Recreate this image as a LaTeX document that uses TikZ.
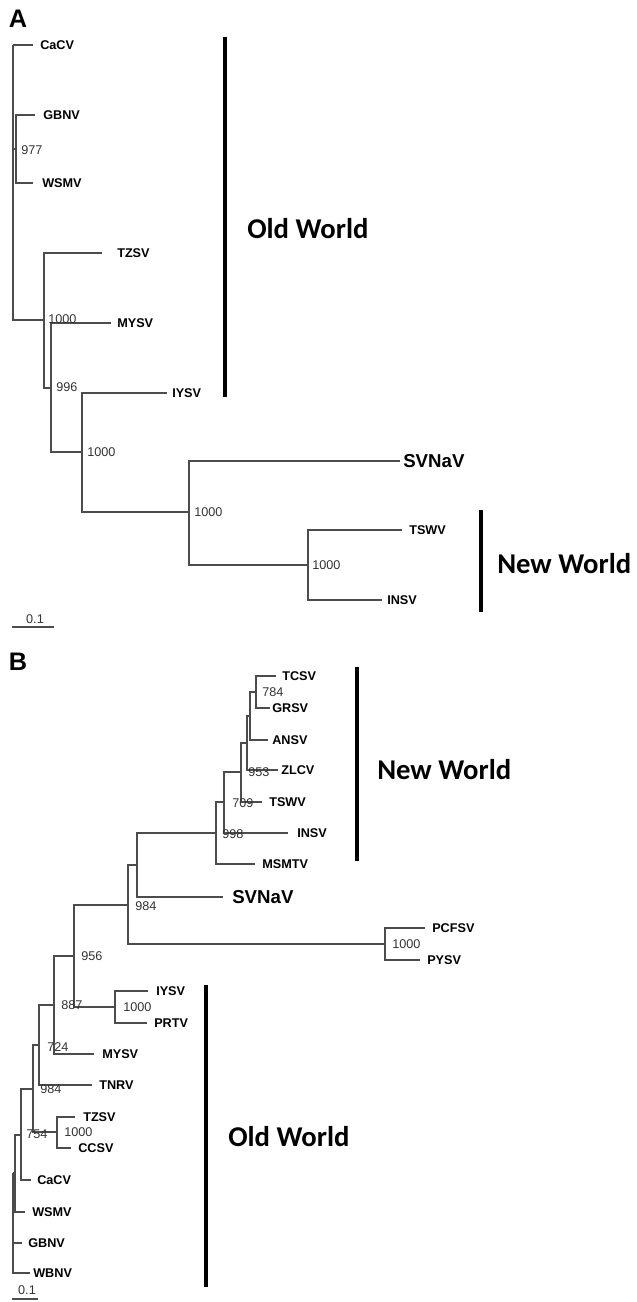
\documentclass[tikz,border=0pt]{standalone}
\usepackage{fontspec}
\setmainfont{Liberation Sans}
\newfontfamily\worldfont{Carlito}
\begin{document}
\begin{tikzpicture}[x=0.75pt,y=-0.75pt,
    branch/.style={draw=black!70,line width=1pt},
    cladebar/.style={draw=black,line width=2.3pt},
    leaf/.style={anchor=west,inner sep=0pt,font=\fontsize{9.5}{10}\selectfont\bfseries},
    bigleaf/.style={anchor=west,inner sep=0pt,font=\fontsize{14}{16}\selectfont\bfseries},
    boot/.style={anchor=west,inner sep=0pt,text=black!80,font=\fontsize{9.5}{10}\selectfont},
    world/.style={anchor=west,inner sep=0pt,font=\worldfont\bfseries\fontsize{21.5}{24}\selectfont},
    panel/.style={inner sep=0pt,font=\fontsize{19}{20}\selectfont\bfseries}]
    \useasboundingbox (0,0) rectangle (636,1302);

    % tree A
    \node[panel] (A) at (18,19) {A};
    \coordinate (aR) at (13,45);
    \coordinate (aG) at (16,149);
    \coordinate (a1) at (44,320);
    \coordinate (a2) at (51,388);
    \coordinate (a3) at (82,452);
    \coordinate (a4) at (189,512);
    \coordinate (a5) at (308,565);

    \coordinate (aCaCVt) at (33,45);    \node[leaf] (aCaCV) at (40,45) {CaCV};
    \coordinate (aGBNVt) at (35,115);   \node[leaf] (aGBNV) at (43,115) {GBNV};
    \coordinate (aWSMVt) at (33,183);   \node[leaf] (aWSMV) at (42,183) {WSMV};
    \coordinate (aTZSVt) at (102,253);  \node[leaf] (aTZSV) at (117,253) {TZSV};
    \coordinate (aMYSVt) at (111,323);  \node[leaf] (aMYSV) at (117,323) {MYSV};
    \coordinate (aIYSVt) at (167,393);  \node[leaf] (aIYSV) at (172,393) {IYSV};
    \coordinate (aSVNaVt) at (400,461); \node[bigleaf] (aSVNaV) at (403,461) {SVNaV};
    \coordinate (aTSWVt) at (402,530);  \node[leaf] (aTSWV) at (409,530) {TSWV};
    \coordinate (aINSVt) at (382,600);  \node[leaf] (aINSV) at (387,600) {INSV};

    \draw[branch] (aR) |- (aCaCVt) (aR) |- (aG) (aR) |- (a1)
        (aG) |- (aGBNVt) (aG) |- (aWSMVt)
        (a1) |- (aTZSVt) (a1) |- (a2)
        (a2) |- (aMYSVt) (a2) |- (a3)
        (a3) |- (aIYSVt) (a3) |- (a4)
        (a4) |- (aSVNaVt) (a4) |- (a5)
        (a5) |- (aTSWVt) (a5) |- (aINSVt);

    \node[boot] (aB977) at (21,150) {977};
    \node[boot] (aB1000a) at (48,319) {1000};
    \node[boot] (aB996) at (56,387) {996};
    \node[boot] (aB1000b) at (87,452) {1000};
    \node[boot] (aB1000c) at (194,512) {1000};
    \node[boot] (aB1000d) at (312,565) {1000};

    \coordinate (aOldTop) at (225,37);  \coordinate (aOldBot) at (225,397);
    \coordinate (aNewTop) at (481,510); \coordinate (aNewBot) at (481,612);
    \draw[cladebar] (aOldTop) -- (aOldBot);
    \draw[cladebar] (aNewTop) -- (aNewBot);
    \node[world] (aOld) at (247,229) {Old World};
    \node[world] (aNew) at (497,564) {New World};

    \coordinate (aScaleL) at (12,627); \coordinate (aScaleR) at (54,627);
    \draw[branch] (aScaleL) -- (aScaleR);
    \node[boot,anchor=center] (aScale) at (35,619) {0.1};

    % tree B
    \node[panel] (B) at (18,662) {B};
    \coordinate (bA) at (256,692);
    \coordinate (bB) at (250,716);
    \coordinate (bC) at (247,743);
    \coordinate (bD) at (241,772);
    \coordinate (bE) at (224,802);
    \coordinate (bF) at (216,833);
    \coordinate (bG) at (137,865);
    \coordinate (bH) at (128,905);
    \coordinate (bQ) at (385,944);
    \coordinate (bI) at (74,956);
    \coordinate (bJ) at (115,1007);
    \coordinate (bK) at (54,1005);
    \coordinate (bL) at (39,1045);
    \coordinate (bM) at (33,1089);
    \coordinate (bN) at (57,1132);
    \coordinate (bO) at (21,1135);
    \coordinate (bP) at (15,1173);
    \coordinate (bR) at (13,1173);

    \coordinate (bTCSVt) at (276,676);  \node[leaf] (bTCSV) at (282,676) {TCSV};
    \coordinate (bGRSVt) at (270,708);  \node[leaf] (bGRSV) at (272,708) {GRSV};
    \coordinate (bANSVt) at (268,740);  \node[leaf] (bANSV) at (272,740) {ANSV};
    \coordinate (bZLCVt) at (278,770);  \node[leaf] (bZLCV) at (281,770) {ZLCV};
    \coordinate (bTSWVt) at (262,802);  \node[leaf] (bTSWV) at (269,802) {TSWV};
    \coordinate (bINSVt) at (288,833);  \node[leaf] (bINSV) at (297,833) {INSV};
    \coordinate (bMSMTVt) at (255,864); \node[leaf] (bMSMTV) at (262,864) {MSMTV};
    \coordinate (bSVNaVt) at (223,897); \node[bigleaf] (bSVNaV) at (232,897) {SVNaV};
    \coordinate (bPCFSVt) at (425,928); \node[leaf] (bPCFSV) at (432,928) {PCFSV};
    \coordinate (bPYSVt) at (420,960);  \node[leaf] (bPYSV) at (427,960) {PYSV};
    \coordinate (bIYSVt) at (148,991);  \node[leaf] (bIYSV) at (156,991) {IYSV};
    \coordinate (bPRTVt) at (147,1023); \node[leaf] (bPRTV) at (154,1023) {PRTV};
    \coordinate (bMYSVt) at (94,1054);  \node[leaf] (bMYSV) at (102,1054) {MYSV};
    \coordinate (bTNRVt) at (92,1085);  \node[leaf] (bTNRV) at (99,1085) {TNRV};
    \coordinate (bTZSVt) at (75,1117);  \node[leaf] (bTZSV) at (83,1117) {TZSV};
    \coordinate (bCCSVt) at (71,1148);  \node[leaf] (bCCSV) at (78,1148) {CCSV};
    \coordinate (bCaCVt) at (31,1180);  \node[leaf] (bCaCV) at (37,1180) {CaCV};
    \coordinate (bWSMVt) at (25,1212);  \node[leaf] (bWSMV) at (32,1212) {WSMV};
    \coordinate (bGBNVt) at (22,1243);  \node[leaf] (bGBNV) at (28,1243) {GBNV};
    \coordinate (bWBNVt) at (30,1273);  \node[leaf] (bWBNV) at (33,1273) {WBNV};

    \draw[branch] (bA) |- (bTCSVt) (bA) |- (bGRSVt)
        (bB) |- (bA) (bB) |- (bANSVt)
        (bC) |- (bB) (bC) |- (bZLCVt)
        (bD) |- (bC) (bD) |- (bTSWVt)
        (bE) |- (bD) (bE) |- (bINSVt)
        (bF) |- (bE) (bF) |- (bMSMTVt)
        (bG) |- (bF) (bG) |- (bSVNaVt)
        (bH) |- (bG) (bH) |- (bQ)
        (bQ) |- (bPCFSVt) (bQ) |- (bPYSVt)
        (bI) |- (bH) (bI) |- (bJ)
        (bJ) |- (bIYSVt) (bJ) |- (bPRTVt)
        (bK) |- (bI) (bK) |- (bMYSVt)
        (bL) |- (bK) (bL) |- (bTNRVt)
        (bM) |- (bL) (bM) |- (bN)
        (bN) |- (bTZSVt) (bN) |- (bCCSVt)
        (bO) |- (bM) (bO) |- (bCaCVt)
        (bP) |- (bO) (bP) |- (bWSMVt)
        (bR) |- (bP) (bR) |- (bGBNVt) (bR) |- (bWBNVt);

    \node[boot] (bB784) at (262,692) {784};
    \node[boot] (bB953) at (248,772) {953};
    \node[boot] (bB709) at (232,803) {709};
    \node[boot] (bB998) at (222,834) {998};
    \node[boot] (bB984a) at (135,906) {984};
    \node[boot] (bB1000a) at (392,944) {1000};
    \node[boot] (bB956) at (81,956) {956};
    \node[boot] (bB887) at (61,1005) {887};
    \node[boot] (bB1000b) at (123,1007) {1000};
    \node[boot] (bB724) at (47,1047) {724};
    \node[boot] (bB984b) at (40,1089) {984};
    \node[boot] (bB754) at (26,1134) {754};
    \node[boot] (bB1000c) at (64,1132) {1000};

    \coordinate (bNewTop) at (357,667); \coordinate (bNewBot) at (357,861);
    \coordinate (bOldTop) at (206,985); \coordinate (bOldBot) at (206,1287);
    \draw[cladebar] (bNewTop) -- (bNewBot);
    \draw[cladebar] (bOldTop) -- (bOldBot);
    \node[world] (bNew) at (377,770) {New World};
    \node[world] (bOld) at (228,1137) {Old World};

    \coordinate (bScaleL) at (12,1299); \coordinate (bScaleR) at (38,1299);
    \draw[branch] (bScaleL) -- (bScaleR);
    \node[boot,anchor=center] (bScale) at (27,1290) {0.1};
\end{tikzpicture}
\end{document}
